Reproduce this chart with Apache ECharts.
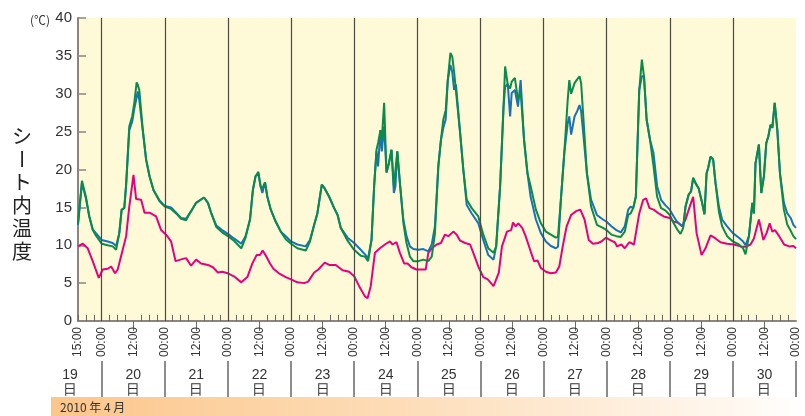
<!DOCTYPE html>
<html>
<head>
<meta charset="utf-8">
<script src="https://cdn.jsdelivr.net/npm/echarts@6/dist/echarts.min.js"></script>
<style>
  html, body { margin: 0; padding: 0; background: #fff; }
  #chart { width: 805px; height: 416px; }
</style>
</head>
<body>
<div id="chart"></div>
<script>
// 時刻は 4/19 00:00 からの経過時間(h)
const bgHours = [15,16.5,18,19.3,20.6,21.8,24,26.3,28.2,29.5,30.7,31.6,32.6,33.3,34.5,35.6,36.4,37.3,37.7,38.3,39.6,40.9,42.2,43.7,46,48,50.4,52.3,54.2,56.1,57,58,59.9,62.9,64.4,65.7,67.6,69.8,
  72,74.3,77.1,78.7,80.4,81.5,82.5,83.6,84.4,85.1,86.1,87,88.3,90.2,92.1,94,96,98.4,101.6,103.2,104.8,106,107.7,108.8,110.5,112.4,113.7,114.9,117.5,120,122.5,124.1,
  125.3,126.6,127.6,128.5,129.1,130,130.5,131.4,132.3,133.2,134.2,135.1,135.7,136.4,137.4,138.7,139.9,141.2,142.5,144.4,146.3,148.2,149.5,150.7,152,153,153.9,154.8,155.6,156.6,157.3,158,158.7,160.3,161.5,162.8,164.7,167.2,169.1,171,173,174,175.5,176.8,177.4,178.4,179.3,
  179.9,181.1,182.3,183.3,184.6,185.9,187.1,189.1,191,192.9,194.8,196.7,197.5,198.6,199.9,201.2,201.8,202.5,203.8,204.8,205.7,206.3,207.2,208.5,210.1,212.3,214.6,216,217.8,219.7,221.4,222.9,224.2,225.1,226.1,227.1,228.4,229.4,230.2,231.2,232.5,233.8,
  235.2,236.7,238.3,240,241.5,242.8,244.1,245.1,246,247.2,248.1,248.9,249.8,251,252.3,253.2,254,254.6,255.5,256.5,257.4,258.7,259.9,261.8,264,266.3,267.9,268.8,270.1,271.4,272,272.6,273.9,274.8,275.8,276.7,277.5,278.3,279,279.9,280.9,281.9,283.4,284.7,286,287,288];

const blueVals = [12.7,18.2,16.2,13.8,12.1,11.6,10.7,10.5,10.3,9.9,11.6,14.7,14.9,18,25.2,26.3,28.0,29.5,30.3,29.2,25.2,21.3,19.1,17.3,15.9,15.2,15.0,14.3,13.6,13.5,14.0,14.5,15.6,16.3,15.6,14.2,12.6,12.0,
  11.5,10.9,10.2,11.2,13.4,17.3,19.1,19.4,17.8,16.9,18.3,16.4,14.7,13.1,11.8,11.2,10.5,10.1,9.85,10.7,12.7,14.2,18.0,17.5,16.4,14.9,14.0,12.3,11.0,10.3,9.4,8.8,
  8.3,10.7,17.8,22.4,20.4,25.2,22.4,25.7,19.6,20.8,22.6,16.9,17.8,22.4,18.2,13.4,11.2,9.85,9.5,9.4,9.5,9.2,10.1,12.5,20.4,23.9,25.5,26.6,31.8,33.8,32.9,30.5,31.2,24.8,20.0,15.3,14.2,12.9,10.7,8.7,8.1,9.85,17.8,28.3,30.9,31.3,27.0,
  30.1,30.5,28.3,31.8,23.9,19.5,16.4,13.4,11.6,10.5,9.9,9.6,9.8,16.0,22.2,26.1,27.0,24.6,27.0,27.7,28.5,27.7,24.4,19.5,16.0,14.0,13.4,13.1,12.5,12.0,11.7,12.5,14.7,15.1,14.9,16.4,30.5,32.3,32.3,26.6,23.9,22.2,
  17.8,16.0,15.3,14.7,13.8,13.1,12.7,12.5,15.1,16.7,17.1,18.9,18.2,17.5,15.6,14.1,19.5,20.2,21.7,21.3,18.2,15.1,13.4,12.5,11.6,11.0,10.5,10.0,11.2,15.6,14.2,20.8,23.3,16.9,19.1,23.5,24.4,25.9,25.5,28.8,25.2,19.5,15.6,14.2,13.6,12.7,12.3];

const greenVals = [12.9,18.5,16.4,13.8,12.0,11.3,10.2,10.0,9.85,9.4,11.6,14.7,14.9,18,25.7,27.0,28.8,31.5,31.2,30.5,25.4,21.3,19.1,17.3,15.8,15.1,14.8,14.2,13.5,13.3,13.9,14.5,15.6,16.3,15.6,14.2,12.4,11.7,
  11.2,10.6,9.6,11.0,13.4,17.3,19.1,19.7,17.8,17.5,18.3,16.4,14.7,13.1,11.8,10.8,10.2,9.6,9.3,10.5,12.7,14.2,18.0,17.5,16.4,14.9,14.0,12.3,10.6,9.4,8.6,8.5,
  7.9,10.7,17.8,22.6,23.5,25.2,23.9,28.8,19.6,20.8,22.6,17.8,17.8,22.4,18.2,13.0,10.3,8.5,7.9,7.9,8.1,7.9,8.5,11.5,20.4,23.9,26.6,27.8,31.8,35.4,34.9,32.9,32.9,24.8,20.0,16.0,14.9,13.8,11.4,9.6,9.0,9.85,17.8,28.3,33.6,31.2,30.7,
  31.6,32.1,29.2,30.3,23.9,19.5,17.8,14.7,12.9,11.8,11.4,11.0,11.1,16.0,22.2,29.2,31.8,30.0,31.4,31.9,32.3,31.4,26.6,19.5,15.1,12.7,12.3,12.0,11.4,11.2,11.1,11.8,14.0,14.2,14.9,16.4,30.5,34.5,32.3,26.6,23.9,20.5,
  16.4,14.9,14.6,14.0,12.9,12.1,11.5,12.3,15.1,16.7,17.1,18.9,18.2,17.5,15.6,14.1,19.5,20.2,21.7,21.3,18.2,14.4,12.5,11.2,10.5,10.1,9.6,8.8,11.2,15.6,14.2,20.8,23.3,16.9,19.1,23.5,24.4,25.9,25.5,28.8,25.2,19.5,14.7,12.7,11.9,11.2,10.8];

const magHours = [15,16.8,18.7,20.6,22.9,24.4,26.3,27.6,29.1,30.1,32,33.3,34.5,36.1,37.1,39,40.3,42.2,44.7,46.6,48.5,50.4,52.1,54.9,56.1,58,59.9,61.8,64.4,66.3,68.2,69.8,
  72,74.3,77.1,79.4,81.3,82.9,84.2,85.2,86.3,88,89.3,91.4,94,96,98.4,101,102.5,104.8,106.4,108.8,110.5,113,115.6,118.1,120,121.9,124.1,125.1,126.3,127.9,129.8,131.7,133.6,134.6,136.1,137.4,139,140.3,141.8,143.7,
  145.7,147.2,148.2,149.5,151.4,153,154.5,155.8,157.7,159,160.3,162.2,164.1,165.3,167.2,169.1,170.8,173,175,176.2,178.1,179.7,180.4,181.4,182.4,183.9,185.2,187.1,188.4,189.7,191,192.9,194.8,196.7,198,199.3,200.8,202.5,204.4,206,207.6,209.2,210.8,212.7,214,215.7,217.2,219.1,220,221.6,222.9,224.6,226.4,227.1,228.4,229.9,231,232.3,233.9,
  235.8,237.7,240,241.5,243,244.7,246,247.6,248.9,250.2,252.1,253.6,255.5,257.4,259.3,261.8,264.4,266.9,268.8,270.7,272,273.9,275.6,276.8,278,279,280,281.6,283.5,285.4,287,288];

const magVals = [9.85,10.2,9.6,7.9,5.7,6.8,6.9,7.2,6.3,6.8,9.4,11.2,15.1,19.3,16.1,16.0,14.3,14.3,13.8,12.0,11.4,10.5,7.9,8.2,8.3,7.3,8.1,7.6,7.4,7.1,6.4,6.5,
  6.3,5.9,5.1,5.8,7.6,8.7,8.7,9.3,8.7,7.6,6.9,6.3,5.8,5.5,5.1,5.0,5.2,6.4,6.8,7.7,7.4,7.4,6.7,6.5,5.9,4.6,3.25,3.0,4.6,9.0,9.6,10.1,10.5,10.1,10.4,9.0,7.6,7.6,7.1,6.8,
  6.8,6.8,9.0,9.6,10.1,10.3,11.4,11.2,11.8,11.4,10.6,10.3,10.1,9.0,7.2,5.8,5.5,4.6,6.4,9.85,11.8,12.0,13.0,12.5,12.9,12.3,11.2,9.2,7.9,8.0,7.0,6.5,6.3,6.4,7.2,9.85,12.5,14.0,14.5,14.7,13.4,10.7,10.2,10.3,10.5,11.0,10.7,10.4,9.85,10.1,9.6,10.4,10.1,10.2,14.2,16.0,16.2,14.9,14.7,
  14.2,13.8,13.6,13.1,13.0,12.5,13.4,15.1,16.4,11.6,8.7,9.6,11.3,10.9,10.4,10.2,10.1,9.85,9.8,10.1,10.9,13.4,10.7,11.6,12.9,11.8,12.0,11.2,10.1,9.85,9.9,9.6];

// 目盛り
const hourLabels = [15,24,36,48,60,72,84,96,108,120,132,144,156,168,180,192,204,216,228,240,252,264,276,288];
const noonTicks = [36,60,84,108,132,156,180,204,228,252,276];
const dayLines = [24,48,72,96,120,144,168,192,216,240,264];
const dayNames = ['19','20','21','22','23','24','25','26','27','28','29','30'];
const dayCenters = [12,36,60,84,108,132,156,180,204,228,252,276];
const dayBounds = [24,48,72,96,120,144,168,192,216,240,264,288];

const shortTicks = [];
for (let h = 15; h <= 288; h += 3) {
  if (h % 12 !== 0) shortTicks.push(h)
}

const zip = (hs, vs) => hs.map((h, i) => [h, vs[i]]);

const FONT = '"Liberation Sans", Arial, sans-serif';
const JP = '"Noto Sans CJK JP", sans-serif';
const AXIS = '#8a867f';

const PL = 78, PR = 796;
const pxPerH = (PR - PL) / (288 - 15);

const chart = echarts.init(document.getElementById('chart'));

const lineSeries = (name, data, color) => ({
  name: name,
  type: 'line',
  data: data,
  showSymbol: false,
  symbol: 'none',
  lineStyle: { color: color, width: 2 },
  z: 3,
});

const titleChars = ['シ', 'ー', 'ト', '内', '温', '度'];
const titleGraphic = titleChars.map((c, i) => ({
  type: 'text',
  x: 22,
  y: 136 + i * 23,
  rotation: c === 'ー' ? -Math.PI / 2 : 0,
  style: {
    text: c, font: '20px ' + JP, fill: '#222',
    align: 'center', verticalAlign: 'middle'
  }
}));

const option = {
  animation: false,
  grid: [
    { left: PL, right: 805 - PR, top: 18, bottom: 416 - 321, show: true,
      backgroundColor: '#fef9d6', borderWidth: 0 },
    { left: PL - 15 * pxPerH, width: 288 * pxPerH, top: 361, height: 36 }
  ],
  xAxis: [
    {
      type: 'value', gridIndex: 0, min: 15, max: 288,
      axisLine: { show: true, onZero: false, lineStyle: { color: AXIS, width: 2 } },
      axisTick: { show: true, inside: true, length: 6, customValues: shortTicks,
        lineStyle: { color: '#6d6a65', width: 1 } },
      axisLabel: {
        show: true, customValues: hourLabels, rotate: 90, margin: 6,
        fontSize: 12, fontFamily: FONT, color: '#333',
        formatter: v => v === 15 ? '15:00' : (v % 24 === 0 ? '00:00' : '12:00')
      },
      splitLine: { show: false }
    },
    {
      type: 'value', gridIndex: 0, min: 15, max: 288,
      axisLine: { show: false },
      axisTick: { show: true, inside: true, length: 10, customValues: noonTicks,
        lineStyle: { color: '#6d6a65', width: 1 } },
      axisLabel: { show: false },
      splitLine: { show: false }
    },
    {
      type: 'value', gridIndex: 1, min: 0, max: 288, position: 'top',
      axisLine: { show: false },
      axisTick: { show: false },
      axisLabel: {
        show: true, inside: true, customValues: dayCenters, margin: 7,
        fontSize: 14, lineHeight: 15, fontFamily: FONT, color: '#333',
        formatter: v => dayNames[dayCenters.indexOf(v)] + '\n日'
      },
      splitLine: { show: false }
    }
  ],
  yAxis: [
    {
      type: 'value', gridIndex: 0, min: 0, max: 40, interval: 5,
      axisLine: { show: true, lineStyle: { color: AXIS, width: 2 } },
      axisTick: { show: true, inside: true, length: 8, lineStyle: { color: AXIS, width: 1.5 } },
      axisLabel: { fontSize: 15, fontFamily: FONT, color: '#333', margin: 6 },
      splitLine: { show: false }
    },
    { type: 'value', gridIndex: 1, min: 0, max: 1, show: false }
  ],
  series: [
    {
      type: 'line', data: [], xAxisIndex: 0, yAxisIndex: 0, z: 1,
      markLine: {
        silent: true, symbol: ['none', 'none'], label: { show: false },
        lineStyle: { color: '#4d4a46', width: 1.2, type: 'solid' },
        data: dayLines.map(v => ({ xAxis: v }))
      }
    },
    {
      type: 'line', data: [], xAxisIndex: 2, yAxisIndex: 1, z: 1,
      markLine: {
        silent: true, symbol: ['none', 'none'], label: { show: false },
        lineStyle: { color: '#666', width: 1.5, type: 'solid' },
        data: dayBounds.map(v => ({ xAxis: v }))
      }
    },
    lineSeries('シート外', zip(magHours, magVals), '#e5007f'),
    lineSeries('シート内A', zip(bgHours, blueVals), '#1871b9'),
    lineSeries('シート内B', zip(bgHours, greenVals), '#0b8b47'),
  ],
  graphic: [
    {
      type: 'rect', shape: { x: 51, y: 397, width: 754, height: 19 },
      style: {
        fill: new echarts.graphic.LinearGradient(0, 0, 1, 0, [
          { offset: 0, color: '#fcc68b' },
          { offset: 0.45, color: '#fddcb6' },
          { offset: 0.9, color: '#fff7ee' },
          { offset: 1, color: '#ffffff' }
        ])
      },
      z: -1
    },
    {
      type: 'text', x: 60, y: 407,
      style: { text: '2010 年 4 月', font: '12px ' + JP, fill: '#333', verticalAlign: 'middle' }
    },
    {
      type: 'text', x: 40, y: 20,
      style: { text: '(℃)', font: '12px ' + JP, fill: '#333', align: 'center', verticalAlign: 'middle' }
    },
    ...titleGraphic
  ]
};

chart.setOption(option);
</script>
</body>
</html>
